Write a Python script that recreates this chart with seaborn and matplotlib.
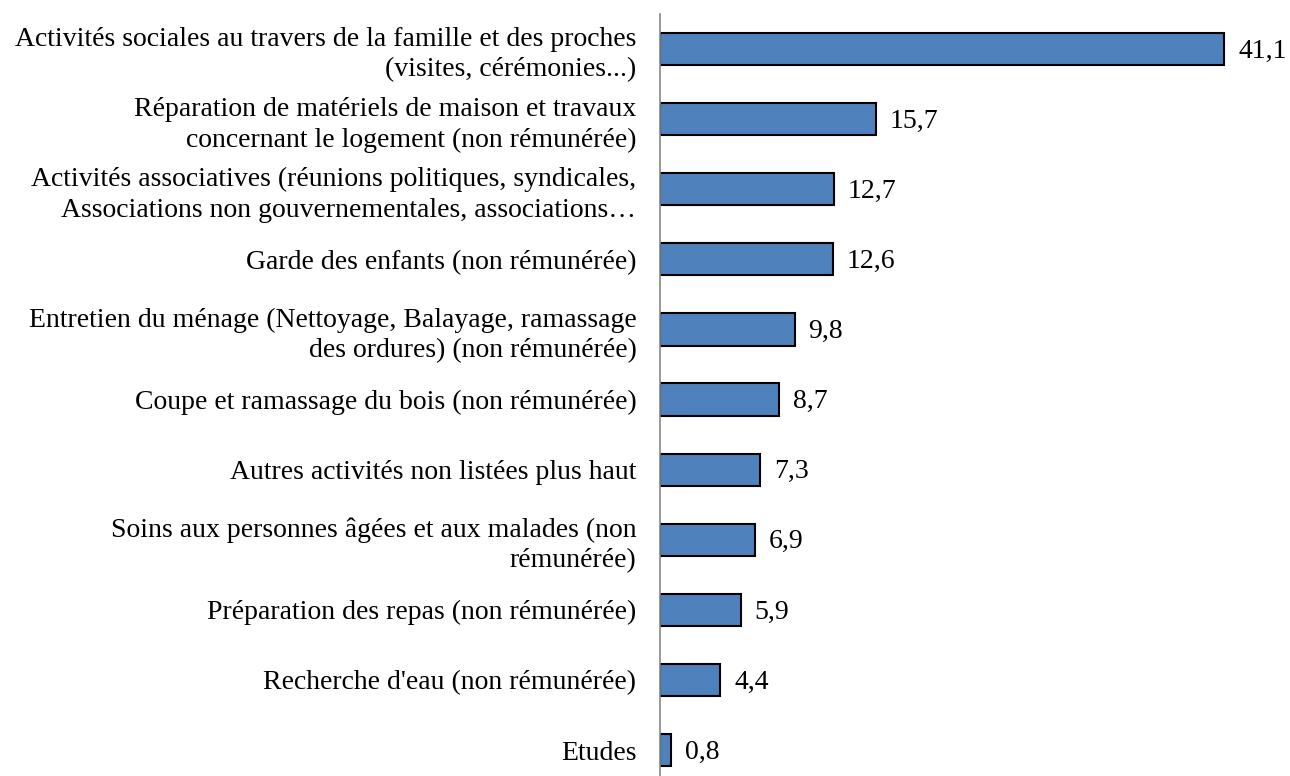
import matplotlib
matplotlib.use("Agg")
import matplotlib.pyplot as plt
import seaborn as sns
import pandas as pd

categories = [
    "Activités sociales au travers de la famille et des proches\n(visites, cérémonies...)",
    "Réparation de matériels de maison et travaux\nconcernant le logement (non rémunérée)",
    "Activités associatives (réunions politiques, syndicales,\nAssociations non gouvernementales, associations…",
    "Garde des enfants (non rémunérée)",
    "Entretien du ménage (Nettoyage, Balayage, ramassage\ndes ordures) (non rémunérée)",
    "Coupe et ramassage du bois (non rémunérée)",
    "Autres activités non listées plus haut",
    "Soins aux personnes âgées et aux malades (non\nrémunérée)",
    "Préparation des repas (non rémunérée)",
    "Recherche d'eau (non rémunérée)",
    "Etudes",
]
values = [41.1, 15.7, 12.7, 12.6, 9.8, 8.7, 7.3, 6.9, 5.9, 4.4, 0.8]

df = pd.DataFrame({"activite": categories, "pct": values})

sns.set_theme(style="white")
plt.rcParams["font.family"] = ["Liberation Serif", "DejaVu Serif"]

fig = plt.figure(figsize=(12.9, 7.76), dpi=100)
ax = fig.add_axes([660 / 1290, 0, 630 / 1290, 762 / 776])

sns.barplot(data=df, x="pct", y="activite", color="#4F81BD",
            edgecolor="black", linewidth=1.5, width=0.46, saturation=1, ax=ax)

for i, v in enumerate(values):
    ax.text(v + 1.0, i + 0.03, f"{v:.1f}".replace(".", ","), va="center", ha="left",
            fontsize=20, color="black")

ax.set_xlim(0, 630 / 13.73)
ax.set_ylim(10.37, -0.5)
ax.set_xlabel("")
ax.set_ylabel("")
ax.set_xticks([])
ax.tick_params(axis="y", length=0, pad=17, labelsize=20, labelcolor="black")
for lbl in ax.get_yticklabels():
    lbl.set_multialignment("right")
    lbl.set_linespacing(1.28)
for s in ["top", "right", "bottom"]:
    ax.spines[s].set_visible(False)
ax.spines["left"].set_color("#888888")
ax.spines["left"].set_linewidth(1.2)

fig.savefig("out.png", dpi=100)
